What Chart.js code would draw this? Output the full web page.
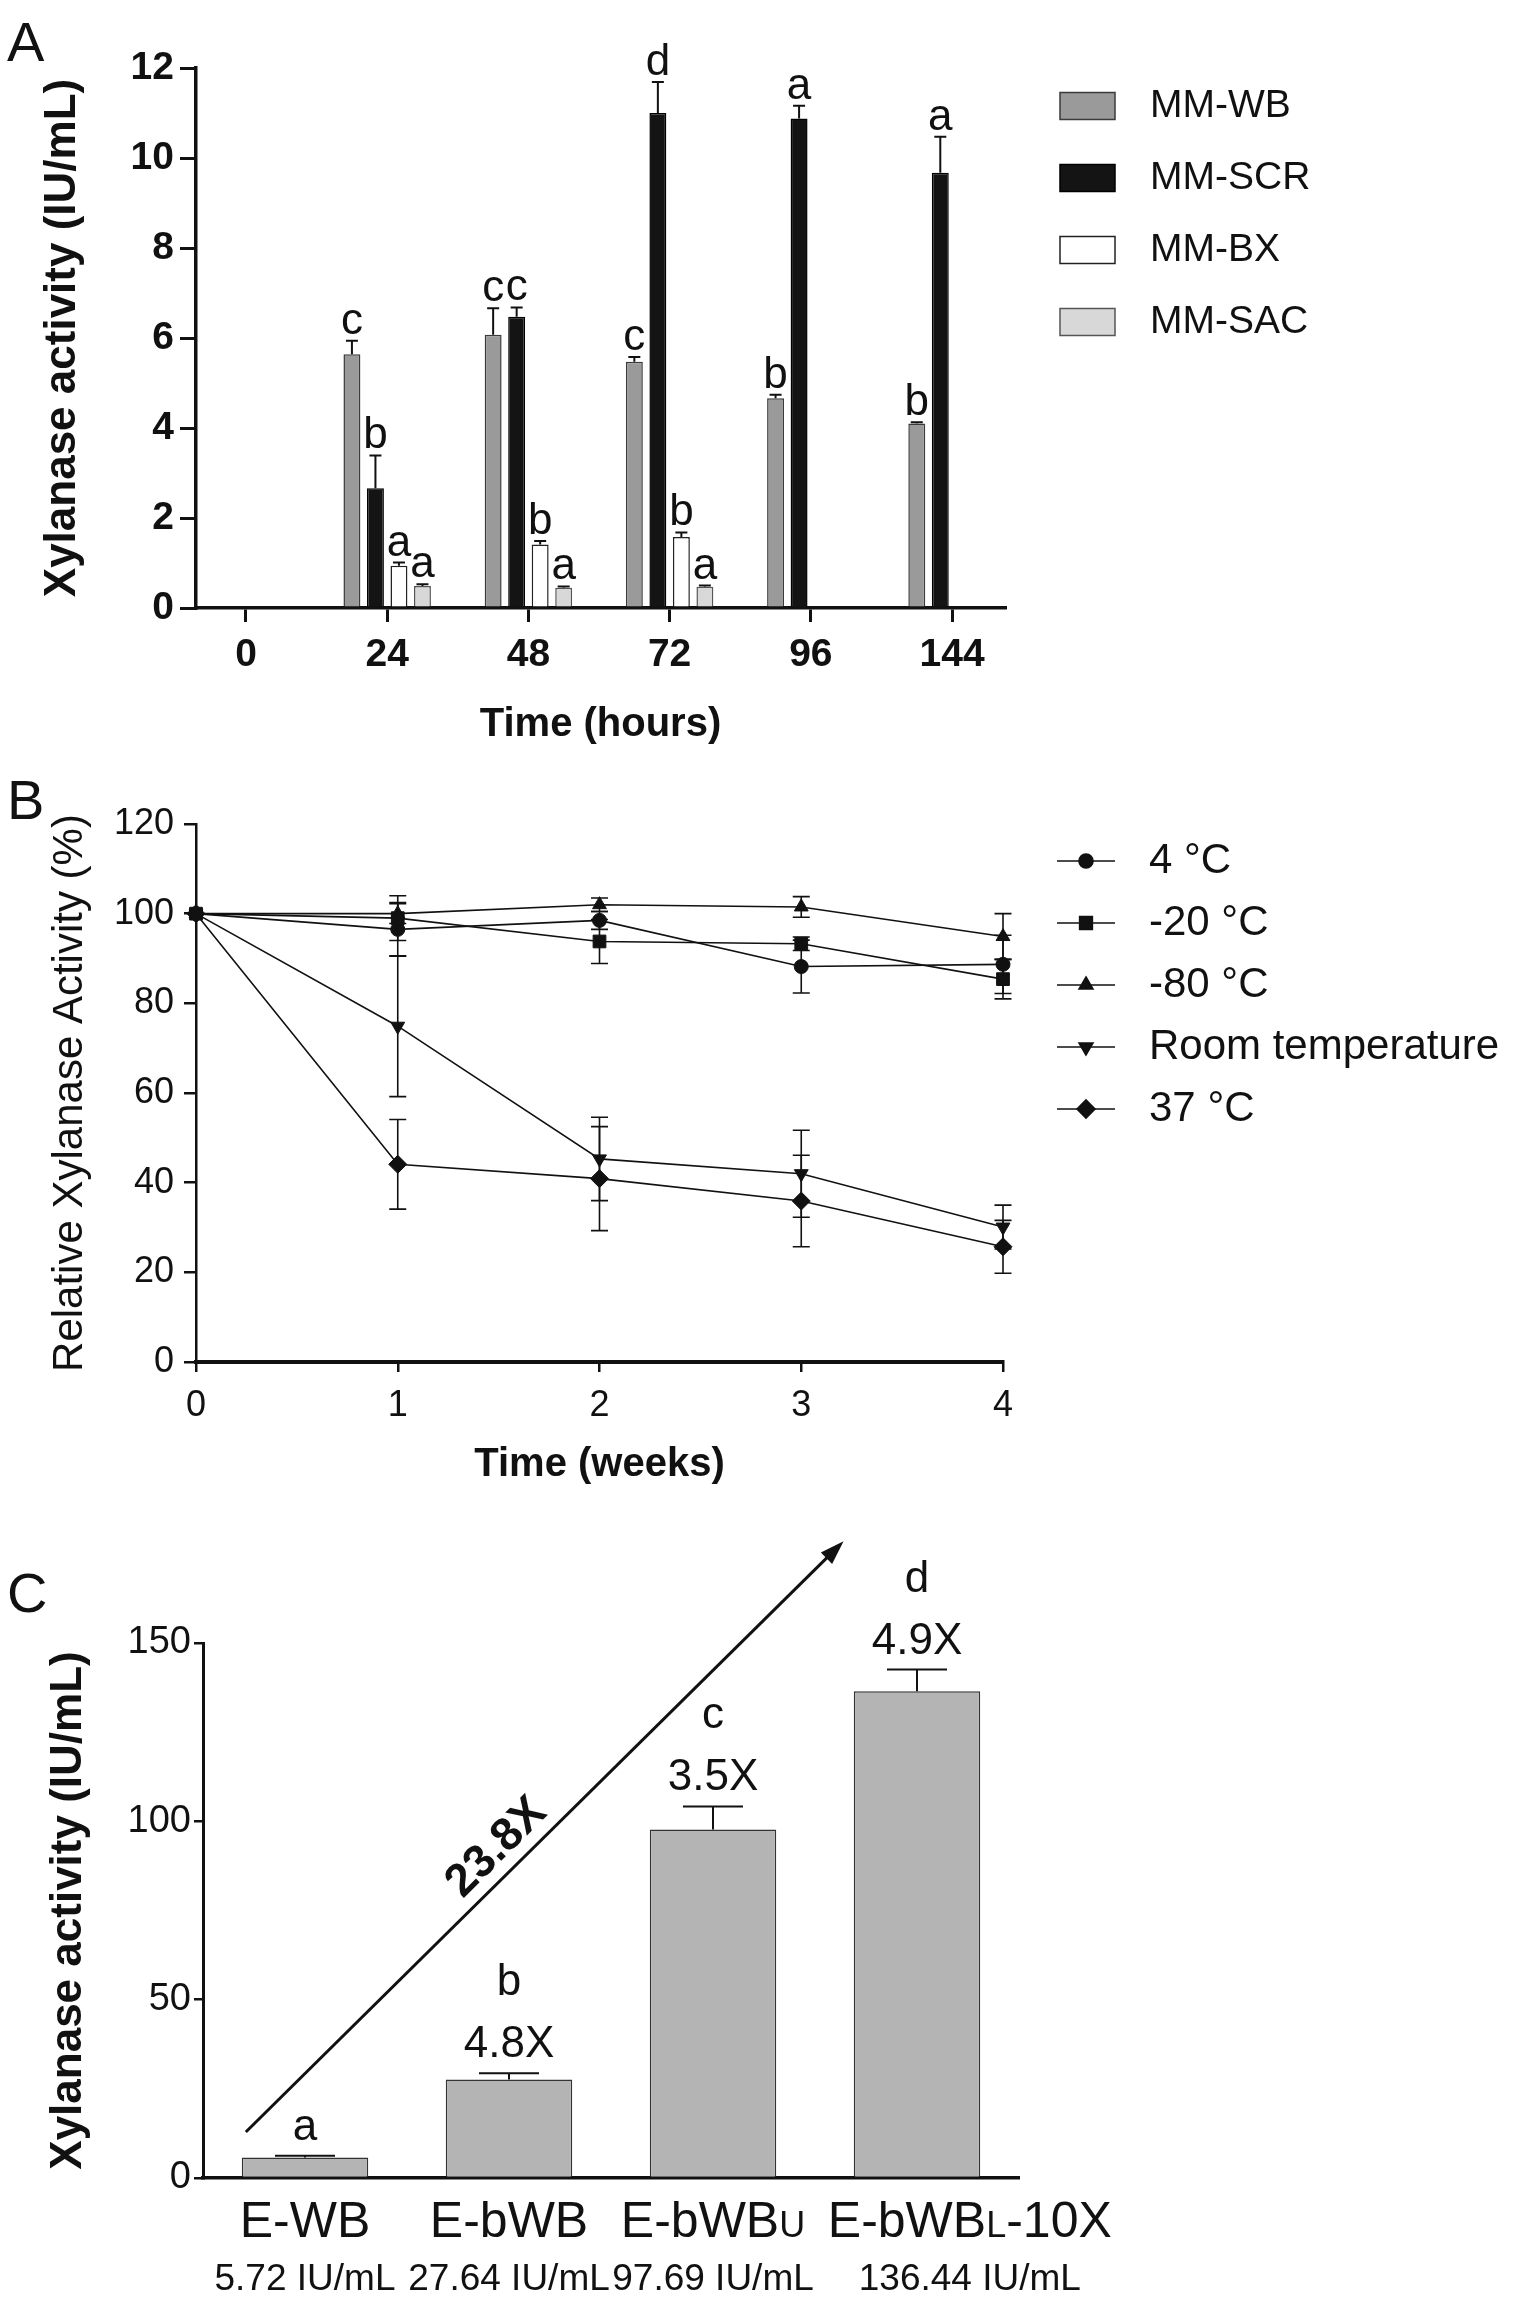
<!DOCTYPE html>
<html>
<head>
<meta charset="utf-8">
<script src="https://cdn.jsdelivr.net/npm/chart.js@4.4.1/dist/chart.umd.min.js"></script>
<style>
  body { margin: 0; background: #fff; width: 1524px; height: 2304px; position: relative; overflow: hidden;
         font-family: "Liberation Sans", Arial, sans-serif; color: #111; }
  canvas { position: absolute; left: 0; }
  .tag { position: absolute; left: 7px; font-size: 56px; line-height: 1; }
</style>
</head>
<body>
<div class="tag" style="top:14px">A</div>
<div class="tag" style="top:772px">B</div>
<div class="tag" style="top:1565px">C</div>
<canvas id="chartA" width="1524" height="780" style="top:0"></canvas>
<canvas id="chartB" width="1524" height="730" style="top:780px"></canvas>
<canvas id="chartC" width="1524" height="794" style="top:1510px"></canvas>

<script>
// ---- panel A: xylanase activity over time, four media
const hours = ["0", "24", "48", "72", "96", "144"];
const mmWB = [null, 5.64, 6.07, 5.47, 4.66, 4.10];
const mmWBErr = [null, 0.30, 0.59, 0.11, 0.08, 0.03];
const mmWBSig = ["", "c", "c", "c", "b", "b"];
const mmSCR = [null, 2.66, 6.47, 11.0, 10.88, 9.67];
const mmSCRErr = [null, 0.73, 0.21, 0.69, 0.28, 0.80];
const mmSCRSig = ["", "b", "c", "d", "a", "a"];
const mmBX = [null, 0.94, 1.41, 1.58, null, null];
const mmBXErr = [null, 0.07, 0.08, 0.10, null, null];
const mmBXSig = ["", "a", "b", "b", "", ""];
const mmSAC = [null, 0.49, 0.45, 0.47, null, null];
const mmSACErr = [null, 0.04, 0.03, 0.03, null, null];
const mmSACSig = ["", "a", "a", "a", "", ""];

// ---- panel B: storage stability
const weeks = [0, 1, 2, 3, 4];
const temp4 = [100, 96.5, 98.5, 88.2, 88.7];
const temp4Err = [0, 6.0, 2.0, 5.9, 6.5];
const temp20 = [100, 99.0, 93.8, 93.3, 85.4];
const temp20Err = [0, 5.0, 4.9, 1.5, 4.4];
const temp80 = [100, 100.0, 102.0, 101.5, 94.9];
const temp80Err = [0, 2.2, 1.5, 2.3, 5.1];
const tempRoom = [100, 74.9, 45.3, 42.0, 30.1];
const tempRoomErr = [0, 15.7, 9.3, 9.7, 4.9];
const temp37 = [100, 44.1, 40.9, 35.9, 25.7];
const temp37Err = [0, 10.0, 11.6, 10.2, 5.9];

// ---- panel C: enzyme extracts
const catMain = ["E-WB", "E-bWB", "E-bWB", "E-bWB"];
const catSmall = ["", "", "U", "L"];
const catTail = ["", "", "", "-10X"];
const activity = [5.72, 27.64, 97.69, 136.44];
const activityErr = [0.5, 1.7, 6.5, 6.1];
const activitySig = ["a", "b", "c", "d"];
const foldStep = ["", "4.8X", "3.5X", "4.9X"];
const foldTotal = "23.8X";
const arrowFrom = { x: -0.29, y: 12.9 };
const arrowTo = { x: 2.64, y: 178.5 };

const FONT = '"Liberation Sans", Arial, sans-serif';
Chart.defaults.font.family = FONT;
Chart.defaults.color = '#111';

function barPoints(vals, errs, sig) {
  return vals.map((v, i) => ({ x: i, y: v, err: errs[i], sig: sig[i] }))
             .filter(p => p.y !== null);
}
function linePoints(vals, errs) {
  return vals.map((v, i) => ({ x: weeks[i], y: v, err: errs[i] }));
}
function axisGrid(len, w) {
  return { display: true, drawOnChartArea: false, drawTicks: true, offset: false, tickLength: len, lineWidth: w, color: '#111' };
}

// error bar (upward) + letter above each bar
const barErrPlugin = {
  id: 'barErr',
  afterDatasetsDraw(chart) {
    const { ctx, scales: { y } } = chart;
    ctx.save();
    ctx.strokeStyle = '#111';
    ctx.fillStyle = '#111';
    ctx.lineWidth = 2;
    ctx.font = '44px ' + FONT;
    ctx.textAlign = 'center';
    ctx.textBaseline = 'alphabetic';
    chart.data.datasets.forEach((ds, di) => {
      chart.getDatasetMeta(di).data.forEach((bar, j) => {
        const p = ds.data[j];
        const top = y.getPixelForValue(p.y + p.err);
        ctx.beginPath();
        ctx.moveTo(bar.x, bar.y);
        ctx.lineTo(bar.x, top);
        ctx.moveTo(bar.x - 6, top);
        ctx.lineTo(bar.x + 6, top);
        ctx.stroke();
        if (p.sig) ctx.fillText(p.sig, bar.x, top - 7);
      });
    });
    ctx.restore();
  }
};

const legendAPlugin = {
  id: 'legendA',
  afterDraw(chart) {
    const ctx = chart.ctx;
    ctx.save();
    ctx.font = '39px ' + FONT;
    ctx.textBaseline = 'middle';
    chart.data.datasets.forEach((ds, i) => {
      const yc = 106 + i * 72;
      ctx.fillStyle = ds.backgroundColor;
      ctx.fillRect(1060, yc - 13.5, 55, 27);
      ctx.strokeStyle = ds.borderColor;
      ctx.lineWidth = 1.5;
      ctx.strokeRect(1060, yc - 13.5, 55, 27);
      ctx.fillStyle = '#111';
      ctx.fillText(ds.label, 1150, yc);
    });
    ctx.restore();
  }
};

new Chart(document.getElementById('chartA'), {
  type: 'bar',
  data: {
    datasets: [
      { label: 'MM-WB', data: barPoints(mmWB, mmWBErr, mmWBSig), backgroundColor: '#9a9a9a', borderColor: '#3a3a3a' },
      { label: 'MM-SCR', data: barPoints(mmSCR, mmSCRErr, mmSCRSig), backgroundColor: '#141414', borderColor: '#000' },
      { label: 'MM-BX', data: barPoints(mmBX, mmBXErr, mmBXSig), backgroundColor: '#ffffff', borderColor: '#222' },
      { label: 'MM-SAC', data: barPoints(mmSAC, mmSACErr, mmSACSig), backgroundColor: '#d8d8d8', borderColor: '#555' }
    ]
  },
  options: {
    responsive: false,
    animation: false,
    datasets: { bar: { borderWidth: 1.5, categoryPercentage: 0.666, barPercentage: 0.72 } },
    layout: { padding: { top: 68, right: 519, left: 0, bottom: 0 } },
    plugins: { legend: { display: false }, tooltip: { enabled: false } },
    scales: {
      x: {
        type: 'linear', min: -0.354, max: 5.375, offset: false,
        afterBuildTicks: s => { s.ticks = hours.map((h, i) => ({ value: i })); },
        ticks: { callback: v => hours[v], font: { size: 39, weight: 'bold' }, padding: 10, color: '#111' },
        grid: axisGrid(14, 3),
        border: { display: true, width: 3.5, color: '#111' },
        title: { display: true, text: 'Time (hours)', font: { size: 40, weight: 'bold' }, color: '#111', padding: { top: 0, bottom: 31 } },
        afterFit: s => { s.height = 172; }
      },
      y: {
        min: 0, max: 12,
        ticks: { stepSize: 2, font: { size: 39, weight: 'bold' }, padding: 6, color: '#111' },
        grid: axisGrid(16, 3),
        border: { display: true, width: 3.5, color: '#111' },
        title: { display: true, text: 'Xylanase activity (IU/mL)', font: { size: 44, weight: 'bold' }, color: '#111', padding: { top: 36, bottom: 0 } },
        afterFit: s => { s.width = 196; }
      }
    }
  },
  plugins: [barErrPlugin, legendAPlugin]
});

// symmetric error bars on line points
const lineErrPlugin = {
  id: 'lineErr',
  afterDatasetsDraw(chart) {
    const { ctx, scales: { y } } = chart;
    ctx.save();
    ctx.strokeStyle = '#111';
    ctx.lineWidth = 1.6;
    chart.data.datasets.forEach((ds, di) => {
      chart.getDatasetMeta(di).data.forEach((pt, j) => {
        const p = ds.data[j];
        if (!p.err) return;
        const hi = y.getPixelForValue(p.y + p.err);
        const lo = y.getPixelForValue(p.y - p.err);
        ctx.beginPath();
        ctx.moveTo(pt.x, hi); ctx.lineTo(pt.x, lo);
        ctx.moveTo(pt.x - 8.5, hi); ctx.lineTo(pt.x + 8.5, hi);
        ctx.moveTo(pt.x - 8.5, lo); ctx.lineTo(pt.x + 8.5, lo);
        ctx.stroke();
      });
    });
    ctx.restore();
  }
};

const legendBPlugin = {
  id: 'legendB',
  afterDraw(chart) {
    const ctx = chart.ctx;
    ctx.save();
    ctx.font = '42px ' + FONT;
    ctx.textBaseline = 'middle';
    chart.data.datasets.forEach((ds, i) => {
      const yc = 81 + i * 62;
      ctx.strokeStyle = '#111';
      ctx.fillStyle = '#111';
      ctx.lineWidth = 1.6;
      ctx.beginPath();
      ctx.moveTo(1057, yc); ctx.lineTo(1115, yc);
      ctx.stroke();
      Chart.helpers.drawPoint(ctx, { pointStyle: ds.pointStyle, radius: ds.pointRadius, rotation: ds.pointRotation || 0, borderWidth: 1 }, 1086, yc);
      ctx.fillStyle = '#111';
      ctx.fillText(ds.label, 1149, yc);
    });
    ctx.restore();
  }
};

function lineSet(label, vals, errs, style, radius, rot) {
  return {
    label, data: linePoints(vals, errs), pointStyle: style, pointRadius: radius, pointRotation: rot || 0,
    borderColor: '#111', backgroundColor: '#111', pointBackgroundColor: '#111', pointBorderColor: '#111',
    borderWidth: 1.6, pointBorderWidth: 1, tension: 0, fill: false, clip: false
  };
}

new Chart(document.getElementById('chartB'), {
  type: 'line',
  data: {
    datasets: [
      lineSet('4 °C', temp4, temp4Err, 'circle', 7),
      lineSet('-20 °C', temp20, temp20Err, 'rect', 9),
      lineSet('-80 °C', temp80, temp80Err, 'triangle', 8),
      lineSet('Room temperature', tempRoom, tempRoomErr, 'triangle', 8, 180),
      lineSet('37 °C', temp37, temp37Err, 'rectRot', 9)
    ]
  },
  options: {
    responsive: false,
    animation: false,
    layout: { padding: { top: 44, right: 521, left: 0, bottom: 0 } },
    plugins: { legend: { display: false }, tooltip: { enabled: false } },
    scales: {
      x: {
        type: 'linear', min: 0, max: 4,
        ticks: { stepSize: 1, font: { size: 36 }, padding: 12, color: '#111' },
        grid: axisGrid(10, 2.5),
        border: { display: true, width: 4, color: '#111' },
        title: { display: true, text: 'Time (weeks)', font: { size: 40, weight: 'bold' }, color: '#111', padding: { top: 0, bottom: 21 } },
        afterFit: s => { s.height = 148; }
      },
      y: {
        min: 0, max: 120,
        ticks: { stepSize: 20, font: { size: 36 }, padding: 10, color: '#111' },
        grid: axisGrid(12, 2.5),
        border: { display: true, width: 2.5, color: '#111' },
        title: { display: true, text: 'Relative Xylanase Activity (%)', font: { size: 42 }, color: '#111', padding: { top: 45, bottom: 0 } },
        afterFit: s => { s.width = 196; }
      }
    }
  },
  plugins: [lineErrPlugin, legendBPlugin]
});

// error bars, significance letters, fold changes, arrow and two-line category labels
const panelCPlugin = {
  id: 'panelC',
  afterDatasetsDraw(chart) {
    const { ctx, chartArea, scales: { x, y } } = chart;
    const meta = chart.getDatasetMeta(0);
    ctx.save();
    ctx.strokeStyle = '#111';
    ctx.fillStyle = '#111';
    ctx.lineWidth = 2;
    ctx.textAlign = 'center';
    ctx.textBaseline = 'alphabetic';
    meta.data.forEach((bar, i) => {
      const top = y.getPixelForValue(activity[i] + activityErr[i]);
      ctx.beginPath();
      ctx.moveTo(bar.x, bar.y); ctx.lineTo(bar.x, top);
      ctx.moveTo(bar.x - 30, top); ctx.lineTo(bar.x + 30, top);
      ctx.stroke();
      ctx.font = '44px ' + FONT;
      let base = top - 16;
      if (foldStep[i]) {
        ctx.fillText(foldStep[i], bar.x, base);
        base -= 62;
      }
      ctx.fillText(activitySig[i], bar.x, base);
    });

    // overall increase arrow
    const x0 = x.getPixelForValue(arrowFrom.x), y0 = y.getPixelForValue(arrowFrom.y);
    const x1 = x.getPixelForValue(arrowTo.x), y1 = y.getPixelForValue(arrowTo.y);
    const ang = Math.atan2(y1 - y0, x1 - x0);
    ctx.lineWidth = 3;
    ctx.beginPath();
    ctx.moveTo(x0, y0); ctx.lineTo(x1 - 14 * Math.cos(ang), y1 - 14 * Math.sin(ang));
    ctx.stroke();
    ctx.save();
    ctx.translate(x1, y1);
    ctx.rotate(ang);
    ctx.beginPath();
    ctx.moveTo(0, 0); ctx.lineTo(-24, -8); ctx.lineTo(-24, 8); ctx.closePath();
    ctx.fill();
    ctx.restore();
    ctx.save();
    const t = 0.45;
    ctx.translate(x0 + t * (x1 - x0), y0 + t * (y1 - y0));
    ctx.rotate(ang);
    ctx.font = 'bold 46px ' + FONT;
    ctx.textBaseline = 'middle';
    ctx.fillText(foldTotal, 0, -26);
    ctx.restore();

    // category labels
    const big = '50px ' + FONT, small = '36px ' + FONT, unit = '37px ' + FONT;
    ctx.textAlign = 'left';
    ctx.textBaseline = 'alphabetic';
    catMain.forEach((m, i) => {
      const cx = x.getPixelForValue(i);
      ctx.font = big; const wMain = ctx.measureText(m).width; const wTail = ctx.measureText(catTail[i]).width;
      ctx.font = small; const wSmall = ctx.measureText(catSmall[i]).width;
      const left = cx - (wMain + wSmall) / 2;
      const b1 = chartArea.bottom + 59;
      ctx.font = big; ctx.fillText(m, left, b1);
      ctx.font = small; ctx.fillText(catSmall[i], left + wMain, b1);
      ctx.font = big; ctx.fillText(catTail[i], left + wMain + wSmall, b1);
      const mid = left + (wMain + wSmall + wTail) / 2;
      ctx.font = unit;
      ctx.textAlign = 'center';
      ctx.fillText(activity[i].toFixed(2) + ' IU/mL', mid, chartArea.bottom + 112);
      ctx.textAlign = 'left';
    });
    ctx.restore();
  }
};

new Chart(document.getElementById('chartC'), {
  type: 'bar',
  data: {
    labels: catMain.map((m, i) => m + catSmall[i] + catTail[i]),
    datasets: [{ label: 'Xylanase activity', data: activity, backgroundColor: '#b4b4b4', borderColor: '#333', borderWidth: 1.5,
                 categoryPercentage: 1, barPercentage: 0.62 }]
  },
  options: {
    responsive: false,
    animation: false,
    layout: { padding: { top: 133, right: 505, left: 0, bottom: 0 } },
    plugins: { legend: { display: false }, tooltip: { enabled: false } },
    scales: {
      x: {
        ticks: { display: false },
        grid: { display: false },
        border: { display: true, width: 3.5, color: '#111' },
        afterFit: s => { s.height = 126; }
      },
      y: {
        min: 0, max: 150,
        ticks: { stepSize: 50, font: { size: 38 }, padding: 3, color: '#111' },
        grid: axisGrid(9, 2.5),
        border: { display: true, width: 3, color: '#111' },
        title: { display: true, text: 'Xylanase activity (IU/mL)', font: { size: 44, weight: 'bold' }, color: '#111', padding: { top: 42, bottom: 0 } },
        afterFit: s => { s.width = 203; }
      }
    }
  },
  plugins: [panelCPlugin]
});
</script>
</body>
</html>
